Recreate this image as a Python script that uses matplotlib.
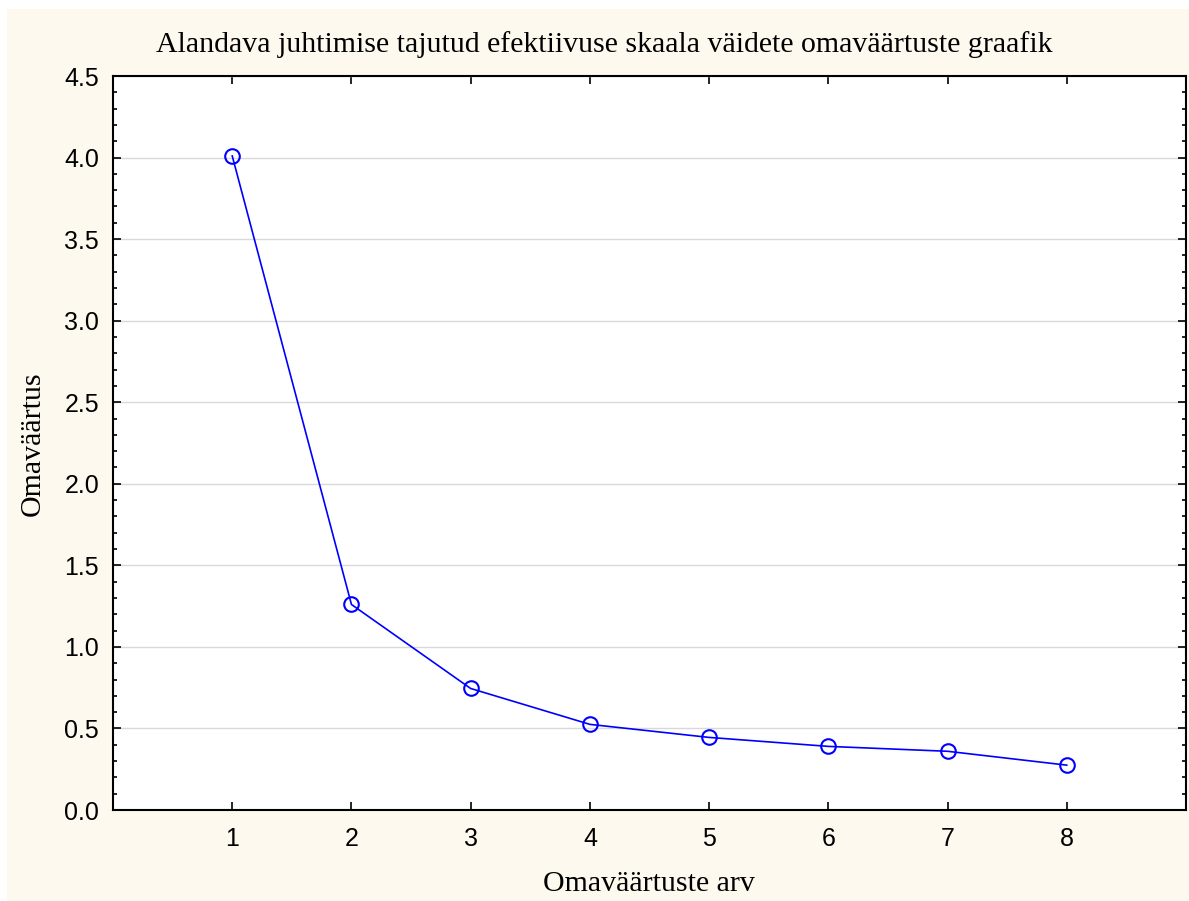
import matplotlib.pyplot as plt
from matplotlib.patches import Rectangle
from matplotlib.ticker import MultipleLocator

factors = [1, 2, 3, 4, 5, 6, 7, 8]
eigenvalues = [4.01, 1.26, 0.745, 0.525, 0.445, 0.39, 0.36, 0.275]

title = "Alandava juhtimise tajutud efektiivuse skaala väidete omaväärtuste graafik"
xlabel = "Omaväärtuste arv"
ylabel = "Omaväärtus"

W, H = 1189, 901
fig = plt.figure(figsize=(W / 100, H / 100), dpi=100, facecolor="white")
fig.patches.append(Rectangle((7 / W, 0), 1 - 7 / W, 1 - 9 / H,
                             transform=fig.transFigure, facecolor="#fdf9ef",
                             edgecolor="none", zorder=-5))

ax = fig.add_axes([113 / W, 1 - 810 / H, (1186 - 113) / W, (810 - 76) / H])
ax.set_zorder(1)
ax.set_facecolor("white")

ax.plot(factors, eigenvalues, color="#0000ff", lw=1.2, marker="o",
        markersize=10.5, markerfacecolor="none", markeredgecolor="#0000ff",
        markeredgewidth=1.5, zorder=3)

ax.set_xlim(0, 9)
ax.set_ylim(0, 4.5)
ax.set_xticks(factors)
ax.yaxis.set_major_locator(MultipleLocator(0.5))
ax.yaxis.set_minor_locator(MultipleLocator(0.1))
ax.yaxis.set_major_formatter(plt.FuncFormatter(lambda v, p: f"{v:.1f}"))
ax.grid(axis="y", which="major", color="#d9d9d9", lw=1.0, zorder=0)
ax.set_axisbelow(True)

for s in ax.spines.values():
    s.set_linewidth(1.5)
ax.tick_params(which="both", direction="in", top=True, right=True,
               labelfontfamily="Liberation Sans", labelsize=18, width=1.2)
ax.tick_params(which="major", length=6)
ax.tick_params(axis="y", which="major", pad=10)
ax.tick_params(axis="x", which="major", pad=12)
ax.tick_params(which="minor", length=3)
ax.tick_params(axis="x", which="minor", top=False, bottom=False)

fig.text(604 / W, 1 - 45 / H, title, ha="center", va="center",
         family="Liberation Serif", fontsize=21.5)
fig.text(649 / W, 1 - 884 / H, xlabel, ha="center", va="center",
         family="Liberation Serif", fontsize=21.5)
fig.text(33 / W, 1 - 444 / H, ylabel, ha="center", va="center",
         rotation=90, family="Liberation Serif", fontsize=21.5)

fig.savefig("out.png", dpi=100, facecolor=fig.get_facecolor())
